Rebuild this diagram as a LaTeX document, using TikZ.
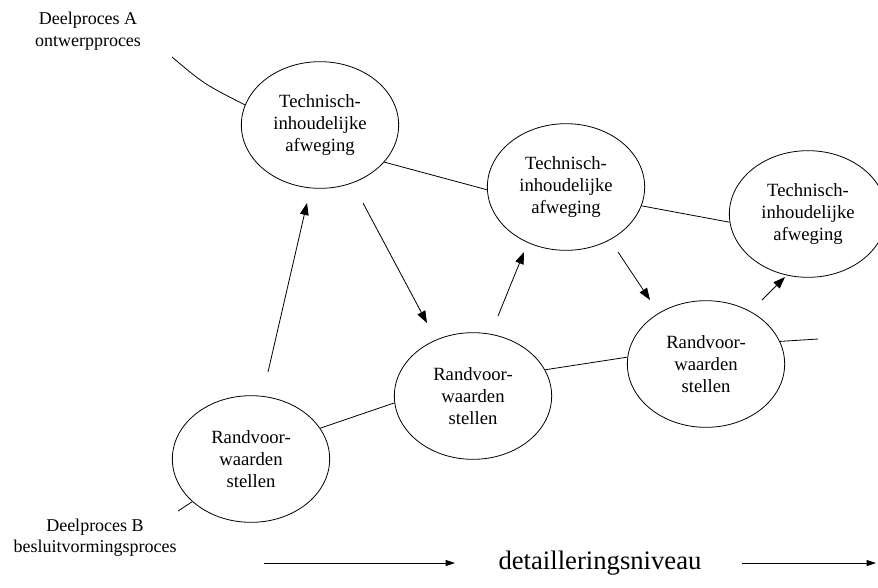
\documentclass[tikz,border=0pt]{standalone}
\usepackage{fontspec}
\setmainfont{Liberation Serif}
\usetikzlibrary{shapes.geometric,arrows.meta}
\begin{document}
\begin{tikzpicture}[x=0.75pt,y=-0.75pt,
  proc/.style={draw,ellipse,line width=0.6pt,inner sep=0pt,minimum width=118pt,minimum height=95pt,align=center,font=\fontsize{14}{16.5}\selectfont},
  link/.style={line width=0.6pt},
  flow/.style={line width=0.6pt,-{Triangle[length=9pt,width=6.5pt]}},
  lbl/.style={align=center,font=\fontsize{13.5}{16}\selectfont,inner sep=0pt},
  axis/.style={line width=0.6pt,-{Triangle[length=7pt,width=4.5pt]}}]
\useasboundingbox (0,0) rectangle (878,587);

% process nodes
\node[proc] (t1) at (320,125) {Technisch-\\inhoudelijke\\afweging};
\node[proc] (t2) at (566,187) {Technisch-\\inhoudelijke\\afweging};
\node[proc] (t3) at (808,214) {Technisch-\\inhoudelijke\\afweging};
\node[proc] (r1) at (251,459) {Randvoor-\\waarden\\stellen};
\node[proc] (r2) at (473,396) {Randvoor-\\waarden\\stellen};
\node[proc] (r3) at (706,364) {Randvoor-\\waarden\\stellen};

% labels
\node[lbl] (la) at (88,31) {Deelproces A\\ontwerpproces};
\node[lbl] (lb) at (95,538) {Deelproces B\\besluitvormingsproces};
\node[inner sep=0pt,font=\fontsize{20}{24}\selectfont] (dn) at (600,563) {detailleringsniveau};

% process lines
\coordinate (a0) at (172,57);
\draw[link] (a0) .. controls (204,84) .. (t1.165);
\draw[link] (t1.330) -- (t2.182);
\draw[link] (t2.346) -- (t3.186);
\coordinate (b0) at (178,511);
\draw[link] (b0) -- (r1.216);
\draw[link] (r1.24) -- (r2.185);
\draw[link] (r2.20) -- (r3.175);
\coordinate (b9) at (818,339);
\draw[link] (r3.17) -- (b9);

% interaction arrows
\coordinate (f1a) at (268,372); \coordinate (f1b) at (307,203);
\coordinate (f2a) at (363,203); \coordinate (f2b) at (427,323);
\coordinate (f3a) at (498,316); \coordinate (f3b) at (524,252);
\coordinate (f4a) at (618,252); \coordinate (f4b) at (650,300);
\coordinate (f5a) at (762,300); \coordinate (f5b) at (785,277);
\draw[flow] (f1a) -- (f1b);
\draw[flow] (f2a) -- (f2b);
\draw[flow] (f3a) -- (f3b);
\draw[flow] (f4a) -- (f4b);
\draw[flow] (f5a) -- (f5b);

% detail axis
\coordinate (x0) at (264,563); \coordinate (x1) at (455,563);
\coordinate (x2) at (742,563); \coordinate (x3) at (876,563);
\draw[axis] (x0) -- (x1);
\draw[axis] (x2) -- (x3);
\end{tikzpicture}
\end{document}
